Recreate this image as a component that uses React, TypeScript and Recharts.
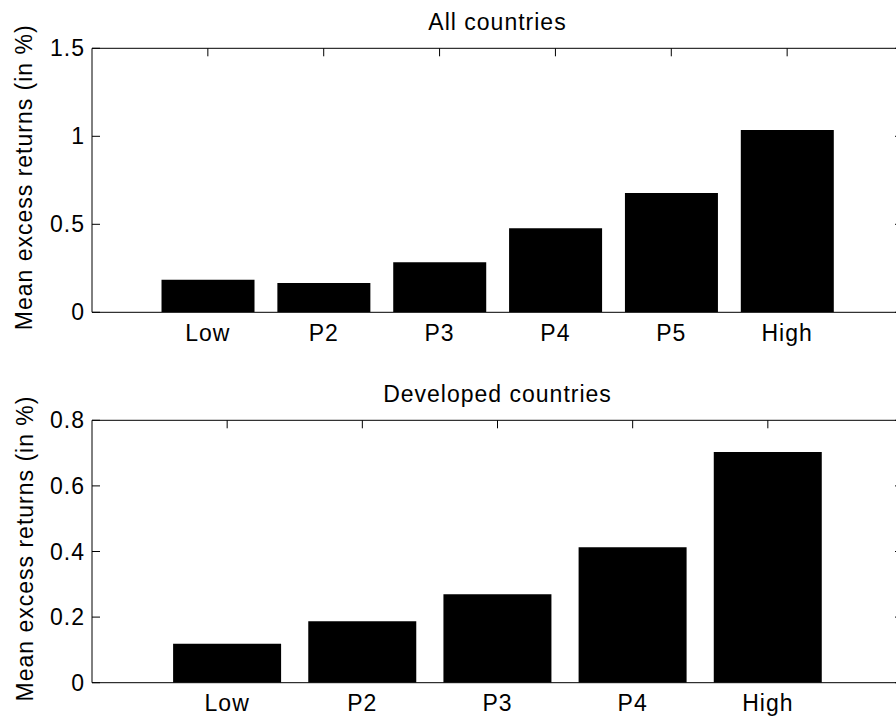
import { Bar, BarChart, XAxis, YAxis } from "recharts";

const allCategories = ["Low", "P2", "P3", "P4", "P5", "High"];
const allReturns = [0.185, 0.167, 0.284, 0.477, 0.678, 1.036];
const allTicks = [0, 0.5, 1, 1.5];

const devCategories = ["Low", "P2", "P3", "P4", "High"];
const devReturns = [0.119, 0.187, 0.27, 0.413, 0.703];
const devTicks = [0, 0.2, 0.4, 0.6, 0.8];

const FONT = '"Liberation Sans", Arial, Helvetica, sans-serif';
const FS = 23;
const CHART_W = 960;
const CHART_H = 360;
const PLOT_LEFT = 92;
const PLOT_RIGHT = 903;
const Y_AXIS_W = 40;
const TOP_AXIS_H = 10;
const BOTTOM_AXIS_H = 30;
const TICK_LEN = 8;

interface PanelProps {
  title: string;
  categories: string[];
  values: number[];
  ticks: number[];
  plotTop: number;
  plotBottom: number;
}

function Panel({ title, categories, values, ticks, plotTop, plotBottom }: PanelProps) {
  const data = categories.map((cat, i) => ({ cat, value: values[i] }));
  const plotW = PLOT_RIGHT - PLOT_LEFT;
  // matlab bar: xlim [0, n+1], so half a slot of space at each end
  const pad = plotW / (categories.length + 1) / 2;
  const domain = [ticks[0], ticks[ticks.length - 1]];
  const midY = (plotTop + plotBottom) / 2 - 3;

  // inward tick marks, matlab style
  const leftTick = (p: any) => (
    <g>
      <line x1={PLOT_LEFT} x2={PLOT_LEFT + TICK_LEN} y1={p.y} y2={p.y} stroke="#000" />
      <text x={PLOT_LEFT - 7} y={p.y} dy="0.35em" textAnchor="end" fontSize={FS} fill="#000" fontFamily={FONT}>
        {p.payload.value}
      </text>
    </g>
  );
  const rightTick = (p: any) => (
    <line x1={PLOT_RIGHT - TICK_LEN} x2={PLOT_RIGHT} y1={p.y} y2={p.y} stroke="#000" />
  );
  const topTick = (p: any) => (
    <line x1={p.x} x2={p.x} y1={plotTop} y2={plotTop + TICK_LEN} stroke="#000" />
  );
  const bottomTick = (p: any) => (
    <text x={p.x} y={plotBottom + 12} dy="0.71em" textAnchor="middle" fontSize={FS} fill="#000" fontFamily={FONT}>
      {p.payload.value}
    </text>
  );

  return (
    <BarChart
      width={CHART_W}
      height={CHART_H}
      data={data}
      barCategoryGap="10%"
      margin={{
        top: plotTop - TOP_AXIS_H,
        bottom: CHART_H - plotBottom - BOTTOM_AXIS_H,
        left: PLOT_LEFT - Y_AXIS_W,
        right: CHART_W - PLOT_RIGHT - Y_AXIS_W,
      }}
    >
      <XAxis
        dataKey="cat"
        xAxisId="b"
        height={BOTTOM_AXIS_H}
        padding={{ left: pad, right: pad }}
        stroke="#000"
        tickLine={false}
        tick={bottomTick}
        interval={0}
      />
      <XAxis
        dataKey="cat"
        xAxisId="t"
        orientation="top"
        height={TOP_AXIS_H}
        padding={{ left: pad, right: pad }}
        stroke="#000"
        tickLine={false}
        tick={topTick}
        interval={0}
        label={() => (
          <text x={(PLOT_LEFT + PLOT_RIGHT) / 2} y={plotTop - 18.8} textAnchor="middle" fontSize={FS} fill="#000" fontFamily={FONT}>
            {title}
          </text>
        )}
      />
      <YAxis
        yAxisId="l"
        width={Y_AXIS_W}
        domain={domain}
        ticks={ticks}
        allowDataOverflow
        stroke="#000"
        tickLine={false}
        tick={leftTick}
        interval={0}
        label={() => (
          <text
            x={32.5}
            y={midY}
            transform={`rotate(-90, 32.5, ${midY})`}
            textAnchor="middle"
            fontSize={FS}
            fill="#000"
            fontFamily={FONT}
          >
            Mean excess returns (in %)
          </text>
        )}
      />
      <YAxis
        yAxisId="r"
        orientation="right"
        width={Y_AXIS_W}
        domain={domain}
        ticks={ticks}
        allowDataOverflow
        stroke="#000"
        tickLine={false}
        tick={rightTick}
        interval={0}
      />
      <Bar dataKey="value" xAxisId="b" yAxisId="l" fill="#000" isAnimationActive={false} />
    </BarChart>
  );
}

export default function App() {
  return (
    <div
      style={{
        position: "absolute",
        left: 0,
        top: 0,
        width: 896,
        height: 720,
        overflow: "hidden",
        background: "#fff",
        fontFamily: FONT,
        letterSpacing: 1,
      }}
    >
      <div style={{ position: "absolute", left: 0, top: 0 }}>
        <Panel title="All countries" categories={allCategories} values={allReturns} ticks={allTicks} plotTop={48.3} plotBottom={312.3} />
      </div>
      <div style={{ position: "absolute", left: 0, top: 360 }}>
        <Panel title="Developed countries" categories={devCategories} values={devReturns} ticks={devTicks} plotTop={60.3} plotBottom={322.7} />
      </div>
    </div>
  );
}
